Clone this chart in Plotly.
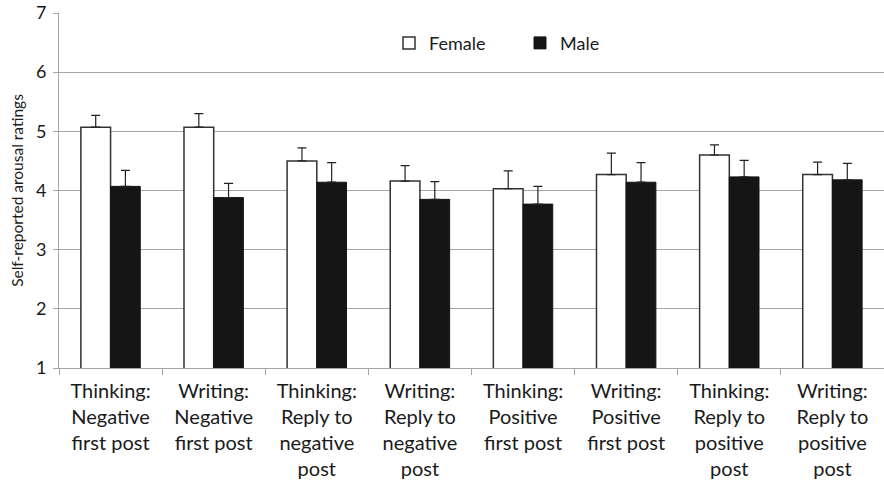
import plotly.graph_objects as go

categories = [
    "Thinking:<br>Negative<br>first post",
    "Writing:<br>Negative<br>first post",
    "Thinking:<br>Reply to<br>negative<br>post",
    "Writing:<br>Reply to<br>negative<br>post",
    "Thinking:<br>Positive<br>first post",
    "Writing:<br>Positive<br>first post",
    "Thinking:<br>Reply to<br>positive<br>post",
    "Writing:<br>Reply to<br>positive<br>post",
]
female_mean = [5.07, 5.07, 4.50, 4.16, 4.03, 4.27, 4.60, 4.27]
female_err = [0.20, 0.23, 0.22, 0.26, 0.30, 0.36, 0.17, 0.21]
male_mean = [4.07, 3.88, 4.14, 3.85, 3.77, 4.14, 4.23, 4.18]
male_err = [0.27, 0.24, 0.33, 0.30, 0.30, 0.33, 0.28, 0.28]

FONT = "Lato, 'Open Sans', sans-serif"
zeros = [0] * len(categories)

fig = go.Figure()
fig.add_trace(go.Bar(
    name="Female", x=categories, y=female_mean,
    marker=dict(color="white", line=dict(color="#333333", width=1.5)),
    error_y=dict(type="data", symmetric=False, array=female_err, arrayminus=zeros,
                 color="#222222", thickness=1.2, width=4.5),
))
fig.add_trace(go.Bar(
    name="Male", x=categories, y=male_mean,
    marker=dict(color="#151515", line=dict(color="#151515", width=1)),
    error_y=dict(type="data", symmetric=False, array=male_err, arrayminus=zeros,
                 color="#222222", thickness=1.2, width=4.5),
))

fig.update_layout(
    width=884, height=484,
    margin=dict(l=59, r=0, t=13, b=116),
    paper_bgcolor="white", plot_bgcolor="white",
    barmode="group", bargap=0.424, bargroupgap=0,
    font=dict(family=FONT, color="#1a1a1a"),
    legend=dict(orientation="h", x=0.400, xanchor="left", y=0.915, yanchor="middle",
                font=dict(size=18, family=FONT), bgcolor="rgba(0,0,0,0)",
                itemwidth=30, entrywidth=86, tracegroupgap=0),
    xaxis=dict(
        showline=True, linecolor="#a6a6a6", linewidth=1,
        ticks="outside", tickson="boundaries", ticklen=6, tickcolor="#a6a6a6",
        tickfont=dict(size=20, family=FONT, color="#1a1a1a"),
        ticklabelstandoff=5,
        showgrid=False, tickangle=0,
    ),
    yaxis=dict(
        range=[1, 7], dtick=1, tick0=1,
        showline=True, linecolor="#a6a6a6", linewidth=1,
        ticks="outside", ticklen=5, tickcolor="#a6a6a6",
        showgrid=True, gridcolor="#a6a6a6", gridwidth=1,
        tickfont=dict(size=18, family=FONT, color="#1a1a1a"),
        ticklabelstandoff=3,
        title=dict(text="Self-reported arousal ratings", font=dict(size=15.5, family=FONT),
                   standoff=8),
        zeroline=False,
    ),
    showlegend=True,
)

fig.write_html("out.html")
